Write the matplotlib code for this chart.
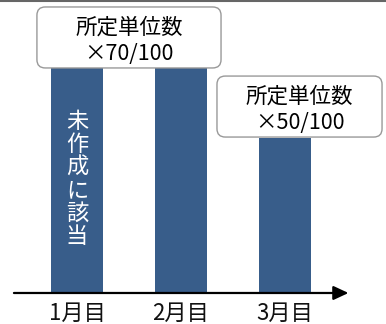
import matplotlib
matplotlib.use("Agg")
import matplotlib.pyplot as plt
from matplotlib.patches import FancyBboxPatch
from matplotlib.lines import Line2D

plt.rcParams['font.family'] = ['Noto Sans CJK JP', 'DejaVu Sans']

categories = ["1月目", "2月目", "3月目"]
values = [100, 100, 69]
box_texts = ["所定単位数\n×70/100", "所定単位数\n×50/100"]
bar_note = "未作成に該当"

fig = plt.figure(figsize=(3.86, 3.24), dpi=100)
ax = fig.add_axes([0, 0, 1, 1])
ax.set_xlim(-0.740, 2.971)
ax.set_ylim(-13.78, 130.2)
ax.axis("off")

x = list(range(len(categories)))
ax.bar(x, values, width=0.5, color="#385D8A", zorder=2)

# axis arrow
ax.annotate("", xy=(2.61, 0), xytext=(-0.606, 0),
            arrowprops=dict(arrowstyle="-|>,head_length=0.9,head_width=0.42",
                            color="black", lw=1.6, shrinkA=0, shrinkB=0),
            zorder=3)

for xi, lab in zip(x, categories):
    ax.text(xi, -9.0, lab, ha="center", va="center", fontsize=16, color="#111111")

# boxes
aspect = 104 / 2.25
boxes = [(-0.385, 100.0, 1.77, 27.1), (1.346, 69.3, 1.587, 27.1)]
for (bx, by, bw, bh), t in zip(boxes, box_texts):
    p = FancyBboxPatch((bx, by), bw, bh,
                       boxstyle="round,pad=0,rounding_size=0.08",
                       mutation_aspect=aspect, facecolor="white",
                       edgecolor="#999999", lw=1.0, zorder=4)
    ax.add_patch(p)
    ax.text(bx + bw / 2, by + bh / 2 - 1.5, t, ha="center", va="center",
            fontsize=15.5, linespacing=1.3, color="black", zorder=5)

ax.text(x[0], 50.7, "\n".join(bar_note), ha="center", va="center",
        fontsize=16, linespacing=1.0, color="white", zorder=5)

fig.add_artist(Line2D([0, 1], [0.997, 0.997], transform=fig.transFigure,
                      color="#666666", lw=1.5))

fig.savefig("out.png", dpi=100)
